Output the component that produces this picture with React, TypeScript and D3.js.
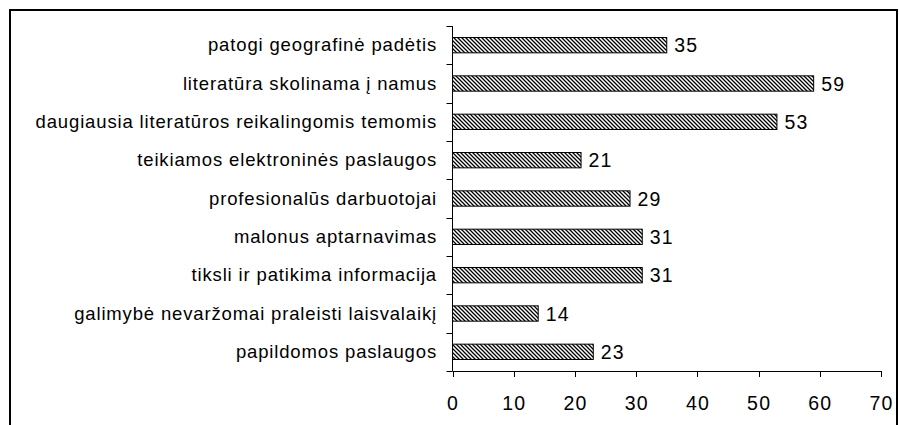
import React from "react";
import * as d3 from "d3";

const categories = [
  "patogi geografinė padėtis",
  "literatūra skolinama į namus",
  "daugiausia literatūros reikalingomis temomis",
  "teikiamos elektroninės paslaugos",
  "profesionalūs darbuotojai",
  "malonus aptarnavimas",
  "tiksli ir patikima informacija",
  "galimybė nevaržomai praleisti laisvalaikį",
  "papildomos paslaugos",
];
const values = [35, 59, 53, 21, 29, 31, 31, 14, 23];
const xTicks = [0, 10, 20, 30, 40, 50, 60, 70];

export default function App() {
  const W = 899, H = 425;
  const x0 = 452.5, x1 = 881;
  const yTop = 26, yBot = 371;
  const x = d3.scaleLinear().domain([0, 70]).range([x0, x1]);
  const y = d3.scaleBand().domain(categories).range([yTop, yBot]).paddingInner(0.6).paddingOuter(0.3);
  const yb = d3.scaleBand().domain(categories).range([yTop, yBot]);
  const font = "'Liberation Sans', Arial, sans-serif";
  return (
    <svg width={W} height={H} style={{ position: "absolute", left: 0, top: 0 }}>
      <defs>
        <pattern id="hatch" patternUnits="userSpaceOnUse" width={4} height={4}>
          <rect width={4} height={4} fill="#fff" />
          <path d="M-1,-1 L5,5 M3,-1 L5,1 M-1,3 L1,5" stroke="#000" strokeWidth={1.3} />
        </pattern>
      </defs>
      <rect x={0} y={0} width={W} height={H} fill="#fff" />
      <path d={`M10,${H + 5} L10,10 L897,10 L897,${H + 5}`} fill="none" stroke="#000" strokeWidth={2} />
      {categories.map((c, i) => (
        <g key={c}>
          <rect
            x={x(0)}
            y={y(c)!}
            width={x(values[i]) - x(0)}
            height={y.bandwidth()}
            fill="url(#hatch)"
            stroke="#000"
            strokeWidth={1}
          />
          <text x={x(values[i]) + 7.5} y={y(c)! + y.bandwidth() / 2 + 7} fontFamily={font} fontSize={19.5} fill="#000" style={{ letterSpacing: "1.2px" }}>
            {values[i]}
          </text>
          <text x={437} y={yb(c)! + yb.bandwidth() / 2 + 6} textAnchor="end" fontFamily={font} fontSize={18.5} fill="#000" style={{ letterSpacing: "0.85px" }}>
            {c}
          </text>
        </g>
      ))}
      <line x1={x0} x2={x0} y1={yTop} y2={yBot} stroke="#000" strokeWidth={1} />
      {[...categories.map((c) => yb(c)!), yBot].map((t, i) => (
        <line key={i} x1={x0 - 6} x2={x0} y1={Math.round(t) + 0.5} y2={Math.round(t) + 0.5} stroke="#000" strokeWidth={1} />
      ))}
      <line x1={x0} x2={x1} y1={yBot + 0.5} y2={yBot + 0.5} stroke="#000" strokeWidth={1} />
      {xTicks.map((t) => (
        <g key={t}>
          <line x1={Math.round(x(t)) + 0.5} x2={Math.round(x(t)) + 0.5} y1={yBot} y2={yBot + 6} stroke="#000" strokeWidth={1} />
          <text x={x(t) + 0.6} y={410} textAnchor="middle" fontFamily={font} fontSize={19.5} fill="#000" style={{ letterSpacing: "1.2px" }}>
            {t}
          </text>
        </g>
      ))}
    </svg>
  );
}
